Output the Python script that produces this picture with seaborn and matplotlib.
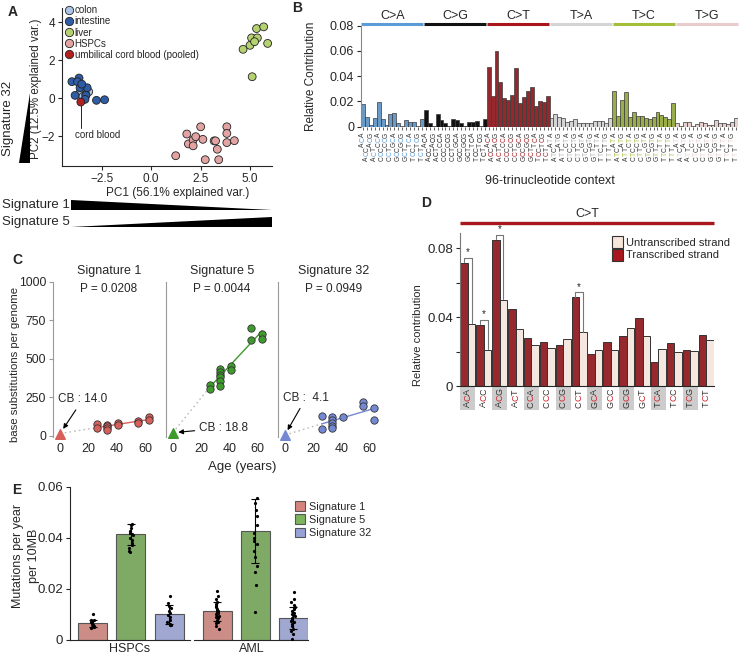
import numpy as np
import pandas as pd
import seaborn as sns
import matplotlib
matplotlib.use("Agg")
import matplotlib.pyplot as plt
import matplotlib.transforms as mtransforms
from matplotlib.patches import Polygon, Patch, Rectangle
from matplotlib.lines import Line2D

# ---------------- data ----------------
# A: PCA of mutational profiles
colon_x = [-3.55, -3.4, -3.25, -3.15, -3.6, -3.45, -3.3]
colon_y = [0.42, 0.3, 0.45, 0.35, 0.25, 0.1, 0.2]
intestine_x = [-4.0, -3.64, -3.72, -3.23, -3.59, -3.84, -3.29, -3.34, -2.76, -2.35, -3.5]
intestine_y = [0.88, 1.07, 0.88, 0.56, 0.56, 0.16, 0.16, -0.05, -0.1, -0.07, 0.75]
liver_x = [4.64, 4.99, 5.07, 5.36, 5.22, 5.32, 5.68, 5.88, 5.1]
liver_y = [2.58, 2.79, 3.18, 3.18, 2.98, 3.67, 3.76, 2.89, 1.14]
hspc_x = [1.24, 1.80, 1.88, 2.12, 2.12, 2.25, 2.50, 2.61, 2.73, 3.18, 3.25, 3.34, 3.41, 3.82, 3.82, 3.82, 4.2]
hspc_y = [-3.01, -1.87, -2.39, -2.18, -2.49, -2.01, -1.49, -2.15, -3.22, -2.23, -2.23, -2.67, -3.22, -1.49, -1.84, -2.32, -2.22]
cord_x = [-3.55]
cord_y = [-0.19]
tissues = ["colon", "intestine", "liver", "HSPCs", "umbilical cord blood (pooled)"]
tissue_colors = ["#a9c6e6", "#2f5ca6", "#b6d170", "#e3a3a3", "#b31e1e"]

# B: 96-trinucleotide profile
mut_types = ["C>A", "C>G", "C>T", "T>A", "T>C", "T>G"]
mut_colors = ["#5a9bd8", "#111111", "#a8161c", "#d4d4d4", "#a3bf3a", "#e8cccc"]
c_contexts = ["ACA", "ACC", "ACG", "ACT", "CCA", "CCC", "CCG", "CCT",
              "GCA", "GCC", "GCG", "GCT", "TCA", "TCC", "TCG", "TCT"]
t_contexts = ["ATA", "ATC", "ATG", "ATT", "CTA", "CTC", "CTG", "CTT",
              "GTA", "GTC", "GTG", "GTT", "TTA", "TTC", "TTG", "TTT"]
ca_vals = [0.0179, 0.0075, 0.0013, 0.0067, 0.0195, 0.0059, 0.0013, 0.0099,
           0.0112, 0.0032, 0.0005, 0.0056, 0.0035, 0.0035, 0.0005, 0.0059]
cg_vals = [0.0133, 0.0027, 0.0005, 0.0099, 0.0053, 0.0032, 0.0003, 0.0061,
           0.0053, 0.0027, 0.0003, 0.0035, 0.0035, 0.0045, 0.0005, 0.0059]
ct_vals = [0.0475, 0.0243, 0.0600, 0.0352, 0.0227, 0.0213, 0.0251, 0.0467,
           0.0187, 0.0235, 0.0280, 0.0317, 0.0160, 0.0205, 0.0197, 0.0243]
ta_vals = [0.0067, 0.0099, 0.0080, 0.0072, 0.0040, 0.0048, 0.0059, 0.0032,
           0.0027, 0.0032, 0.0027, 0.0045, 0.0045, 0.0045, 0.0032, 0.0067]
tc_vals = [0.0283, 0.0083, 0.0211, 0.0275, 0.0075, 0.0115, 0.0088, 0.0088,
           0.0067, 0.0059, 0.0077, 0.0117, 0.0093, 0.0075, 0.0059, 0.0184]
tg_vals = [0.0027, 0.0005, 0.0040, 0.0035, 0.0005, 0.0021, 0.0040, 0.0032,
           0.0013, 0.0013, 0.0051, 0.0027, 0.0027, 0.0019, 0.0035, 0.0067]

# C: signature contributions vs age
sig1_age = [26, 26, 33, 33, 33, 33, 41, 41, 55, 55, 63, 63]
sig1_val = [75, 52, 72, 62, 50, 38, 84, 67, 93, 84, 123, 101]
sig5_age = [26, 26, 33, 33, 33, 33, 33, 33, 41, 41, 55, 55, 63, 63]
sig5_val = [328, 302, 431, 414, 397, 381, 356, 321, 450, 429, 698, 623, 662, 625]
sig32_age = [26, 26, 33, 33, 33, 33, 33, 41, 55, 55, 63, 63]
sig32_val = [127, 41, 123, 101, 84, 65, 52, 123, 220, 194, 177, 101]
cb_vals = [14.0, 18.8, 4.1]
p_vals = ["0.0208", "0.0044", "0.0949"]
sig_names = ["Signature 1", "Signature 5", "Signature 32"]
sigC_colors = ["#d8605c", "#3f9a2e", "#7489d2"]

# D: transcriptional strand bias C>T
d_contexts = c_contexts
d_transcribed = [0.0714, 0.0353, 0.0848, 0.0447, 0.0278, 0.0256, 0.0237, 0.0514,
                 0.0183, 0.0256, 0.0289, 0.0392, 0.0140, 0.0250, 0.0208, 0.0295]
d_untranscribed = [0.0359, 0.0208, 0.0499, 0.0328, 0.0237, 0.0223, 0.0272, 0.0311,
                   0.0208, 0.0208, 0.0336, 0.0289, 0.0217, 0.0198, 0.0204, 0.0268]
d_signif = ["ACA", "ACC", "ACG", "CCT"]

# E: mutations per year per 10MB
e_groups = ["HSPCs", "AML"]
hspc_means = [0.0065, 0.0413, 0.0101]
hspc_sds = [0.0013, 0.0040, 0.0037]
aml_means = [0.0112, 0.0425, 0.0085]
aml_sds = [0.0038, 0.0125, 0.0043]
hspc_s1 = [0.0103, 0.0080, 0.0078, 0.0075, 0.0073, 0.0070, 0.0068, 0.0065, 0.0062, 0.0060, 0.0058, 0.0055, 0.0052, 0.0050, 0.0048]
hspc_s5 = [0.0455, 0.0450, 0.0440, 0.0425, 0.0420, 0.0415, 0.0410, 0.0400, 0.0390, 0.0380, 0.0370, 0.0360, 0.0350, 0.0345]
hspc_s32 = [0.0172, 0.0145, 0.0135, 0.0125, 0.0115, 0.0105, 0.0098, 0.0090, 0.0080, 0.0070, 0.0062, 0.0060, 0.0058]
aml_s1 = [0.0192, 0.0172, 0.0160, 0.0150, 0.0142, 0.0135, 0.0128, 0.0122, 0.0117, 0.0112, 0.0108,
          0.0104, 0.0100, 0.0095, 0.0090, 0.0085, 0.0080, 0.0072, 0.0065, 0.0055, 0.0045]
aml_s5 = [0.0554, 0.0535, 0.0510, 0.0484, 0.0452, 0.0420, 0.0400, 0.0387, 0.0374, 0.0348,
          0.0323, 0.0290, 0.0265, 0.0215, 0.0110]
aml_s32 = [0.0187, 0.0160, 0.0148, 0.0138, 0.0128, 0.0120, 0.0112, 0.0106, 0.0100, 0.0096, 0.0092,
           0.0088, 0.0084, 0.0080, 0.0075, 0.0070, 0.0062, 0.0055, 0.0045, 0.0035, 0.0025, 0.0005]
sigE_colors = ["#d6847b", "#7cb55b", "#98a2d8"]

# ---------------- figure ----------------
W, H = 740, 658
sns.set_theme(style="ticks")
plt.rcParams['font.family'] = ['Liberation Sans', 'DejaVu Sans']
plt.rcParams['axes.linewidth'] = 0.8
plt.rcParams['xtick.major.width'] = 0.8
plt.rcParams['ytick.major.width'] = 0.8
plt.rcParams['xtick.major.size'] = 3
plt.rcParams['ytick.major.size'] = 3
plt.rcParams['xtick.major.pad'] = 2
plt.rcParams['ytick.major.pad'] = 2

fig = plt.figure(figsize=(W / 100, H / 100), dpi=100)


def rect(l, t, r, b):
    return [l / W, 1 - b / H, (r - l) / W, (b - t) / H]


def fx(x):
    return x / W


def fy(y):
    return 1 - y / H


def label_at(ax, axis, x_px, y_px):
    # place an axis label centre at a figure pixel position
    x_ax, y_ax = ax.transAxes.inverted().transform(fig.transFigure.transform((fx(x_px), fy(y_px))))
    if axis == "y":
        ax.yaxis.set_label_coords(x_ax, y_ax)
    else:
        ax.xaxis.set_label_coords(x_ax, y_ax)


# panel letters
for lab, x, y in [("A", 8, 12), ("B", 292, 8), ("C", 12, 260), ("D", 421, 203), ("E", 12, 490)]:
    fig.text(fx(x), fy(y), lab, fontsize=10, fontweight="bold", ha="left", va="center")

# ---------- A ----------
axA = fig.add_axes(rect(62, 8, 272, 166))
dfA = pd.concat([
    pd.DataFrame({"pc1": colon_x, "pc2": colon_y, "tissue": tissues[0]}),
    pd.DataFrame({"pc1": intestine_x, "pc2": intestine_y, "tissue": tissues[1]}),
    pd.DataFrame({"pc1": liver_x, "pc2": liver_y, "tissue": tissues[2]}),
    pd.DataFrame({"pc1": hspc_x, "pc2": hspc_y, "tissue": tissues[3]}),
    pd.DataFrame({"pc1": cord_x, "pc2": cord_y, "tissue": tissues[4]}),
], ignore_index=True)
sns.scatterplot(data=dfA, x="pc1", y="pc2", hue="tissue", hue_order=tissues,
                palette=tissue_colors, s=32, edgecolor="#222222", linewidth=0.6,
                legend=False, ax=axA, zorder=3)
axA.set_xlim(-4.5, 6.1)
axA.set_ylim(-3.55, 4.75)
axA.set_xticks([-2.5, 0, 2.5, 5.0])
axA.set_xticklabels(["\u22122.5", "0.0", "2.5", "5.0"])
axA.set_yticks([-2, 0, 2, 4])
axA.tick_params(labelsize=8.5)
axA.set_xlabel("PC1 (56.1% explained var.)", fontsize=8.5)
axA.set_ylabel("PC2 (12.5% explained var.)", fontsize=8.3)
label_at(axA, "x", 178, 193)
label_at(axA, "y", 36, 89)
axA.yaxis.label.set_va("center")
axA.xaxis.label.set_va("center")
sns.despine(ax=axA)
handlesA = [Line2D([], [], marker="o", ls="", markersize=6, markerfacecolor=c,
                   markeredgecolor="#222222", markeredgewidth=0.6) for c in tissue_colors]
axA.legend(handlesA, tissues, loc="upper left", bbox_to_anchor=(0.0, 1.03), frameon=False,
           fontsize=7, handletextpad=0.1, labelspacing=0.12, borderpad=0.1,
           handlelength=1.0, borderaxespad=0.1)
axA.plot([cord_x[0], cord_x[0]], [-0.32, -1.55], color="#222222", lw=0.7)
axA.text(-2.7, -1.92, "cord blood", fontsize=7, ha="center", va="center")

# wedges around A
wedges = [
    [(30, 93), (30, 163), (19, 163)],
    [(71, 200.5), (71, 210.5), (272, 210.5)],
    [(71, 227), (272, 217), (272, 227)],
]
for pts in wedges:
    fig.patches.append(Polygon([(fx(x), fy(y)) for x, y in pts], closed=True,
                               transform=fig.transFigure, facecolor="black", edgecolor="none"))
fig.text(fx(8), fy(118), "Signature 32", rotation=90, fontsize=9.5, ha="center", va="center")
fig.text(fx(2), fy(205.5), "Signature 1", fontsize=9.5, ha="left", va="center")
fig.text(fx(2), fy(222), "Signature 5", fontsize=9.5, ha="left", va="center")

# ---------- B ----------
axB = fig.add_axes(rect(361, 25.7, 738, 126.7))
b_vals = ca_vals + cg_vals + ct_vals + ta_vals + tc_vals + tg_vals
b_ctx = (c_contexts * 3) + (t_contexts * 3)
b_type = [m for m in mut_types for _ in range(16)]
dfB = pd.DataFrame({"idx": np.arange(96), "val": b_vals, "type": b_type, "ctx": b_ctx})
sns.barplot(data=dfB, x="idx", y="val", hue="type", hue_order=mut_types, palette=mut_colors,
            dodge=False, width=1.0, edgecolor="#3a3a3a", linewidth=0.5, legend=False, ax=axB)
axB.set_xlim(-0.5, 95.5)
axB.set_ylim(0, 0.08)
axB.set_yticks([0, 0.02, 0.04, 0.06, 0.08])
axB.set_yticklabels(["0", "0.02", "0.04", "0.06", "0.08"])
axB.tick_params(axis="y", labelsize=9)
axB.set_xticks(np.arange(96))
axB.tick_params(axis="x", length=2, labelbottom=False, width=0.5)
axB.set_xlabel("")
axB.set_ylabel("Relative Contribution", fontsize=8.5)
label_at(axB, "y", 317, 76)
sns.despine(ax=axB)
axB.spines["left"].set_color("#888888")
axB.spines["bottom"].set_visible(False)
transB = mtransforms.blended_transform_factory(axB.transData, axB.transAxes)
for g, (m, c) in enumerate(zip(mut_types, mut_colors)):
    axB.plot([16 * g - 0.4, 16 * g + 15.4], [1.014, 1.014], color=c, lw=2.2,
             transform=transB, clip_on=False, solid_capstyle="butt")
    axB.text(16 * g + 7.5, 1.04, m, transform=transB, ha="center", va="bottom", fontsize=9)
# colored trinucleotide tick labels (staggered in two rows)
adv = 3.4
for i, (ctx, m) in enumerate(zip(b_ctx, b_type)):
    mid_col = mut_colors[mut_types.index(m)]
    if m == "T>A":
        mid_col = "#b0b0b0"
    top = 4.5 if i % 2 == 0 else 14.5
    for k, ch in enumerate(ctx):
        off = top + (2 - k + 0.5) * adv
        axB.annotate(ch, xy=(i, 0), xycoords=transB, xytext=(0, -off), textcoords="offset points",
                     rotation=90, ha="center", va="center", fontsize=4.8,
                     color=mid_col if k == 1 else "#333333", annotation_clip=False)
fig.text(fx(550), fy(181), "96-trinucleotide context", fontsize=9, ha="center", va="center")

# ---------- C ----------
c_sets = [(sig1_age, sig1_val), (sig5_age, sig5_val), (sig32_age, sig32_val)]
c_lefts = [53, 165.7, 277.7]
axC = []
for j, ((ages, vals), left) in enumerate(zip(c_sets, c_lefts)):
    ax = fig.add_axes(rect(left, 281.7, left + 112, 437.2))
    axC.append(ax)
    col = sigC_colors[j]
    dfc = pd.DataFrame({"age": ages, "val": vals})
    slope, icpt = np.polyfit(ages, vals, 1)
    ax.plot([0, min(ages)], [cb_vals[j], slope * min(ages) + icpt], color="#bbbbbb",
            lw=1.0, ls=(0, (1.2, 2.2)), zorder=1)
    sns.regplot(data=dfc, x="age", y="val", scatter=False, ci=None, color=col,
                line_kws={"lw": 1.0}, ax=ax)
    sns.scatterplot(data=dfc, x="age", y="val", color=col, s=28, edgecolor="#333333",
                    linewidth=0.6, ax=ax, zorder=3)
    ax.scatter([0], [cb_vals[j]], marker="^", s=48, color=col, zorder=3, clip_on=False)
    ax.set_xlim(-5, 74)
    ax.set_ylim(-10, 1000)
    ax.set_xticks([0, 20, 40, 60])
    ax.tick_params(axis="x", labelsize=9, length=0, pad=4)
    ax.set_xlabel("")
    ax.set_ylabel("")
    sns.despine(ax=ax, bottom=True)
    ax.spines["left"].set_color("#999999")
    if j == 0:
        ax.set_yticks([0, 250, 500, 750, 1000])
        ax.tick_params(axis="y", labelsize=8.8, color="#999999")
    else:
        ax.set_yticks([])
    ax.text(0.5, 1.07, sig_names[j], transform=ax.transAxes, ha="center", va="center", fontsize=9)
    ax.text(0.5, 0.95, f"P = {p_vals[j]}", transform=ax.transAxes, ha="center", va="center", fontsize=8.5)

arrow_kw = dict(arrowstyle="-|>", color="black", lw=0.8, mutation_scale=7, shrinkA=1, shrinkB=4)
axC[0].annotate(f"CB : {cb_vals[0]:.1f}", xy=(0, cb_vals[0]), xytext=(16, 235),
                ha="center", va="center", fontsize=8.5, arrowprops=arrow_kw)
axC[1].annotate(f"CB : {cb_vals[1]:.1f}", xy=(0, cb_vals[1]), xytext=(36, 50),
                ha="center", va="center", fontsize=8.5, arrowprops=arrow_kw)
axC[2].annotate(f"CB :  {cb_vals[2]:.1f}", xy=(0, cb_vals[2]), xytext=(15, 245),
                ha="center", va="center", fontsize=8.5, arrowprops=arrow_kw)
fig.text(fx(15), fy(364), "base substitutions per genome", rotation=90, fontsize=8.2,
         ha="center", va="center")
fig.text(fx(242), fy(467), "Age (years)", fontsize=9.5, ha="center", va="center")

# ---------- D ----------
axD = fig.add_axes(rect(460, 233, 714, 386))
dfD = pd.concat([
    pd.DataFrame({"ctx": d_contexts, "val": d_transcribed, "strand": "Transcribed strand"}),
    pd.DataFrame({"ctx": d_contexts, "val": d_untranscribed, "strand": "Untranscribed strand"}),
], ignore_index=True)
strand_order = ["Transcribed strand", "Untranscribed strand"]
strand_colors = ["#a8171d", "#f6e6dc"]
sns.barplot(data=dfD, x="ctx", y="val", hue="strand", order=d_contexts, hue_order=strand_order,
            palette=strand_colors, width=0.94, edgecolor="#333333", linewidth=0.7,
            legend=False, ax=axD)
axD.set_xlim(-0.5, 15.5)
axD.set_ylim(0, 0.0887)
axD.set_yticks([0, 0.02, 0.04, 0.06, 0.08])
axD.set_yticklabels(["0", "", "0.04", "", "0.08"])
axD.tick_params(axis="y", labelsize=9.5)
axD.tick_params(axis="x", length=0, labelbottom=False)
axD.set_xlabel("")
axD.set_ylabel("Relative contribution", fontsize=8)
label_at(axD, "y", 423, 335)
sns.despine(ax=axD)
axD.spines["left"].set_color("#777777")
transD = mtransforms.blended_transform_factory(axD.transData, axD.transAxes)
axD.plot([-0.5, 15.5], [1.063, 1.063], color="#a8171d", lw=2.4, transform=transD, clip_on=False,
         solid_capstyle="butt")
axD.text(7.5, 1.085, "C>T", transform=transD, ha="center", va="bottom", fontsize=9)
for i, ctx in enumerate(d_contexts):
    if i % 2 == 0:
        axD.add_patch(Rectangle((i - 0.47, -0.155), 0.94, 0.15, transform=transD,
                                facecolor="#cccccc", edgecolor="none", clip_on=False))
    for k, ch in enumerate(ctx):
        off = 2.0 + (2 - k + 0.5) * 4.5
        axD.annotate(ch, xy=(i, 0), xycoords=transD, xytext=(0, -off), textcoords="offset points",
                     rotation=90, ha="center", va="center", fontsize=6.5,
                     color="#d0202a" if k == 1 else "#333333", annotation_clip=False)
bw = 0.94 / 2
for ctx in d_signif:
    i = d_contexts.index(ctx)
    t = d_transcribed[i]
    u = d_untranscribed[i]
    top = max(t, u) + 0.003
    xl, xr = i - bw / 2, i + bw / 2
    axD.plot([xl, xl, xr, xr], [t + 0.0004, top, top, u + 0.0004], color="#777777", lw=0.8,
             clip_on=False)
    axD.text(i, top + 0.0003, "*", ha="center", va="bottom", fontsize=7)
handlesD = [Patch(facecolor=strand_colors[1], edgecolor="#333333", lw=0.8),
            Patch(facecolor=strand_colors[0], edgecolor="#333333", lw=0.8)]
axD.legend(handlesD, [strand_order[1], strand_order[0]], loc="upper left",
           bbox_to_anchor=(fx(612), fy(236)), bbox_transform=fig.transFigure, frameon=False,
           fontsize=8, handlelength=1.0, handleheight=1.25, handletextpad=0.25,
           labelspacing=0.1, borderpad=0, borderaxespad=0)

# ---------- E ----------
e_sets = [(hspc_means, hspc_sds, [hspc_s1, hspc_s5, hspc_s32]),
          (aml_means, aml_sds, [aml_s1, aml_s5, aml_s32])]
e_rects = [(70, 190, (-0.6, 2.55)), (194.3, 308.3, (-0.61, 2.4))]
for g, ((means, sds, pts), (l, r, xl)) in enumerate(zip(e_sets, e_rects)):
    ax = fig.add_axes(rect(l, 486.7, r, 640))
    dfm = pd.DataFrame({"sig": sig_names, "val": means})
    sns.barplot(data=dfm, x="sig", y="val", hue="sig", order=sig_names, hue_order=sig_names,
                palette=sigE_colors, width=0.76, edgecolor="#555555", linewidth=0.8,
                legend=False, ax=ax)
    ax.errorbar(np.arange(3), means, yerr=sds, fmt="none", ecolor="black", elinewidth=0.8,
                capsize=3, capthick=0.8, zorder=4)
    dfp = pd.DataFrame({"sig": [s for s, p in zip(sig_names, pts) for _ in p],
                        "val": [v for p in pts for v in p]})
    np.random.seed(1)
    sns.stripplot(data=dfp, x="sig", y="val", order=sig_names, color="black", size=2.3,
                  jitter=0.05, ax=ax, zorder=5)
    ax.set_xlim(*xl)
    ax.set_ylim(0, 0.06)
    ax.set_xticks([])
    ax.set_xlabel(e_groups[g], fontsize=9, labelpad=2)
    if g == 0:
        ax.set_yticks([0, 0.02, 0.04, 0.06])
        ax.set_yticklabels(["0", "0.02", "0.04", "0.06"])
        ax.tick_params(axis="y", labelsize=9.5)
        ax.set_ylabel("Mutations per year\nper 10MB", fontsize=9, linespacing=1.35)
        label_at(ax, "y", 26, 556)
        ax.yaxis.label.set_va("center")
        sns.despine(ax=ax)
    else:
        ax.set_ylabel("")
        ax.set_yticks([])
        sns.despine(ax=ax, left=True)
handlesE = [Patch(facecolor=c, edgecolor="#555555", lw=0.8) for c in sigE_colors]
fig.legend(handlesE, sig_names, loc="upper left", bbox_to_anchor=(fx(295), fy(501)),
           frameon=False, fontsize=7.8, handlelength=0.95, handleheight=1.0,
           handletextpad=0.3, labelspacing=0.25, borderpad=0, borderaxespad=0)

fig.savefig("out.png", dpi=100)
